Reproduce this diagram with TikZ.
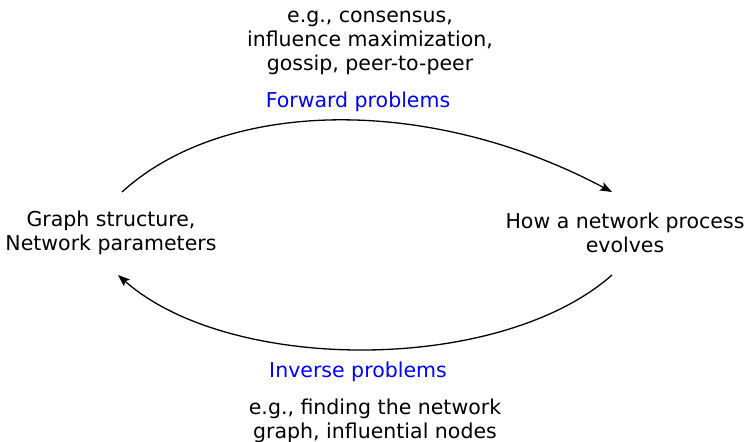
\documentclass[tikz,border=0pt]{standalone}
\usepackage{fontspec}
\setmainfont{DejaVu Sans}
\usetikzlibrary{arrows.meta}
\begin{document}
\begin{tikzpicture}[x=1pt,y=-1pt,
  lbl/.style={font=\fontsize{20.5}{24}\selectfont, align=center, inner sep=0pt},
  prob/.style={lbl, text=blue},
  flow/.style={line width=1.3pt, -{Stealth[length=12pt,width=9pt,inset=2.5pt]}}]
  \useasboundingbox (0,0) rectangle (748,442);
  % end states of the two problems
  \node[lbl] (graph) at (111,233) {Graph structure,\\Network parameters};
  \node[lbl] (proc) at (625,233) {How a network process\\evolves};
  % problem names and examples
  \node[prob] (fwd) at (358,102) {Forward problems};
  \node[lbl] (fwdex) at (370,42.5) {e.g., consensus,\\influence maximization,\\gossip, peer-to-peer};
  \node[prob] (inv) at (358,372) {Inverse problems};
  \node[lbl] (invex) at (375,421) {e.g., finding the network\\graph, influential nodes};
  % arc ends
  \coordinate (gTop) at (122,192);
  \coordinate (gBot) at (118,275);
  \coordinate (pTop) at (612,192);
  \coordinate (pBot) at (612,275);
  \draw[flow] (gTop) .. controls (225,98) and (430,95) .. (pTop);
  \draw[flow] (pBot) .. controls (500,374) and (230,374) .. (gBot);
\end{tikzpicture}
\end{document}
